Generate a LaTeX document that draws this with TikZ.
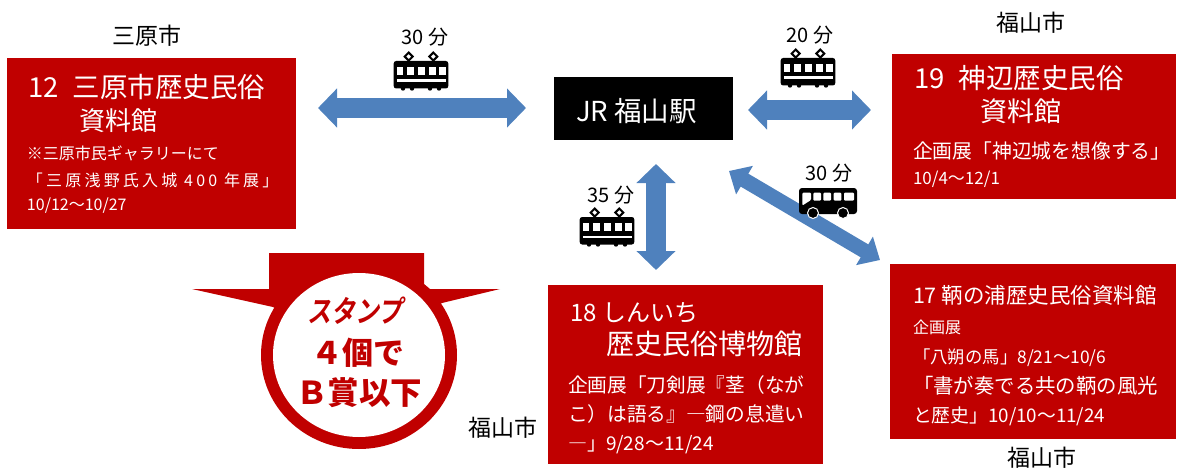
\documentclass[tikz,border=0pt]{standalone}
\usepackage{fontspec}
\usetikzlibrary{arrows.meta}
\setmainfont{Noto Sans CJK JP}
\newfontfamily\slantcjk[FakeSlant=0.22]{Noto Sans CJK JP Bold}
\definecolor{boxred}{HTML}{C00000}
\definecolor{arrowblue}{HTML}{4F81BD}
\newcommand{\fs}[1]{\fontsize{#1pt}{#1pt}\selectfont}
\tikzset{
  redbox/.style={fill=boxred,draw=none},
  tl/.style={anchor=west,inner sep=0pt,outer sep=0pt,text=white},
  captext/.style={anchor=center,inner sep=0pt,text=black},
  stamptext/.style={anchor=center,inner sep=0pt,text=boxred},
  blockarrow/.style={draw=arrowblue,line width=20pt,
    {Triangle[width=38pt,length=19pt,fill=arrowblue]}-{Triangle[width=38pt,length=19pt,fill=arrowblue]}},
  thinarrow/.style={draw=arrowblue,line width=15pt,
    {Triangle[width=32pt,length=18pt,fill=arrowblue]}-{Triangle[width=32pt,length=18pt,fill=arrowblue]}},
  pics/trainicon/.style={code={
    \fill[black,rounded corners=2.5pt] (-27.3,0) rectangle (27.3,27.5);
    \foreach \wx in {-24.3,-13.6,-2.9,7.8,18.2}{\fill[white] (\wx,6) rectangle ++(6.7,7.6);}
    \fill[white] (-24.5,18.5) rectangle (24.5,20.8);
    \foreach \px in {-12.3,12.3}{
      \draw[black,line width=2pt] (\px,-8.4) -- (\px+4,-4.4) -- (\px,-0.4) -- (\px-4,-4.4) -- cycle;
    }
    \foreach \wh in {-18,-9,9,18}{\fill[black] (\wh,27.5) circle (2.2);}
  }},
  pics/busicon/.style={code={
    \fill[black,rounded corners=3pt] (-29,-13) rectangle (29,13);
    \fill[white,rounded corners=1pt] (-25.6,-8.3) -- (-17,-8.3) -- (-17,-1) -- (-25.6,4.5) -- cycle;
    \foreach \wx/\ww in {-14.6/7.6,-4.6/7.6,5.7/7.6,16/10}{\fill[white,rounded corners=1pt] (\wx,-8.3) rectangle ++(\ww,8);}
    \foreach \wh in {-15,15}{\fill[black,draw=white,line width=1pt] (\wh,12) circle (5.5);}
  }}
}
\begin{document}
\begin{tikzpicture}[x=1pt,y=-1pt]
\useasboundingbox (0,0) rectangle (1181,468);
% boxes
\fill[redbox] (7,58) rectangle (296,229);
\fill[black] (554,77) rectangle (733,140);
\fill[redbox] (892,54) rectangle (1176,199);
\fill[redbox] (890,264) rectangle (1176,439);
\fill[redbox] (548,285) rectangle (823,464);
% arrows
\coordinate (a1l) at (318,108); \coordinate (a1r) at (526,108);
\coordinate (a2l) at (748,110); \coordinate (a2r) at (871,110);
\coordinate (a3t) at (656,164); \coordinate (a3b) at (656,270);
\coordinate (a4a) at (729,171); \coordinate (a4b) at (880,260);
\draw[blockarrow] (a1l) -- (a1r);
\draw[blockarrow] (a2l) -- (a2r);
\draw[blockarrow] (a3t) -- (a3b);
\draw[thinarrow] (a4a) -- (a4b);
% icons
\pic at (421,61) {trainicon};
\pic at (808,58) {trainicon};
\pic at (607,217) {trainicon};
\pic at (828,201) {busicon};
% captions
\node[captext] (cmihara) at (147,36) {\fs{23}三原市};
\node[captext] (cfuku1) at (1031,23) {\fs{23}福山市};
\node[captext] (cfuku2) at (503,428) {\fs{23}福山市};
\node[captext] (cfuku3) at (1042,458) {\fs{23}福山市};
\node[captext] (t1) at (425,37) {\fs{20}30 分};
\node[captext] (t2) at (810,35) {\fs{20}20 分};
\node[captext] (t3) at (611,195) {\fs{20}35 分};
\node[captext] (t4) at (829,173) {\fs{20}30 分};
% JR
\node[tl] (jr) at (576,111) {\fs{27.5}JR 福山駅};
% Mihara
\node[tl] (m1) at (28,87) {\fs{27.5}12\hspace{14pt}三原市歴史民俗};
\node[tl] (m2) at (79,121) {\fs{26}資料館};
\node[tl] (m3) at (27,153) {\fs{16}※三原市民ギャラリーにて};
\node[tl] (m4) at (27,180) {\addfontfeature{LetterSpace=20}\fs{16}「三原浅野氏入城 400 年展」};
\node[tl] (m5) at (27,206) {\fs{16}10/12～10/27};
% Jinbe
\node[tl] (j1) at (914,78) {\fs{27.5}19\hspace{14pt}神辺歴史民俗};
\node[tl] (j2) at (980,111) {\fs{27}資料館};
\node[tl] (j3) at (913,151) {\fs{19.8}企画展「神辺城を想像する」};
\node[tl] (j4) at (913,179) {\fs{17}10/4～12/1};
% Tomo
\node[tl] (o1) at (913,295) {\fs{21.5}17 鞆の浦歴史民俗資料館};
\node[tl] (o2) at (913,327) {\fs{16}企画展};
\node[tl] (o3) at (913,358) {\fs{17.4}「八朔の馬」8/21～10/6};
\node[tl] (o4) at (913,386) {\fs{20.4}「書が奏でる共の鞆の風光};
\node[tl] (o5) at (913,416) {\fs{18.8}と歴史」10/10～11/24};
% Shinichi
\node[tl] (s1) at (570,313) {\fs{24}18 しんいち};
\node[tl] (s2) at (606,344) {\fs{28}歴史民俗博物館};
\node[tl] (s3) at (568,385) {\fs{19.7}企画展「刀剣展『茎（なが};
\node[tl] (s4) at (568,414) {\fs{19.7}こ）は語る』―鋼の息遣い};
\node[tl] (s5) at (568,445) {\fs{19}―」9/28～11/24};
% stamp
\fill[boxred] (192,289) -- (269,289) -- (269,253) -- (424,253) -- (424,284) -- (430,289) -- (500,289) -- (442,303) -- (359,355) -- (273,307) -- cycle;
\fill[boxred] (359,355) ellipse [x radius=98,y radius=94];
\fill[white] (359,355) ellipse [x radius=86,y radius=82];
\node[stamptext,xscale=0.8] (st1) at (355,311) {\slantcjk\fs{30}スタンプ};
\node[stamptext] (st2) at (358,353) {\bfseries\fs{31}４個で};
\node[stamptext] (st3) at (359,393) {\bfseries\fs{31.5}Ｂ賞以下};
\end{tikzpicture}
\end{document}
